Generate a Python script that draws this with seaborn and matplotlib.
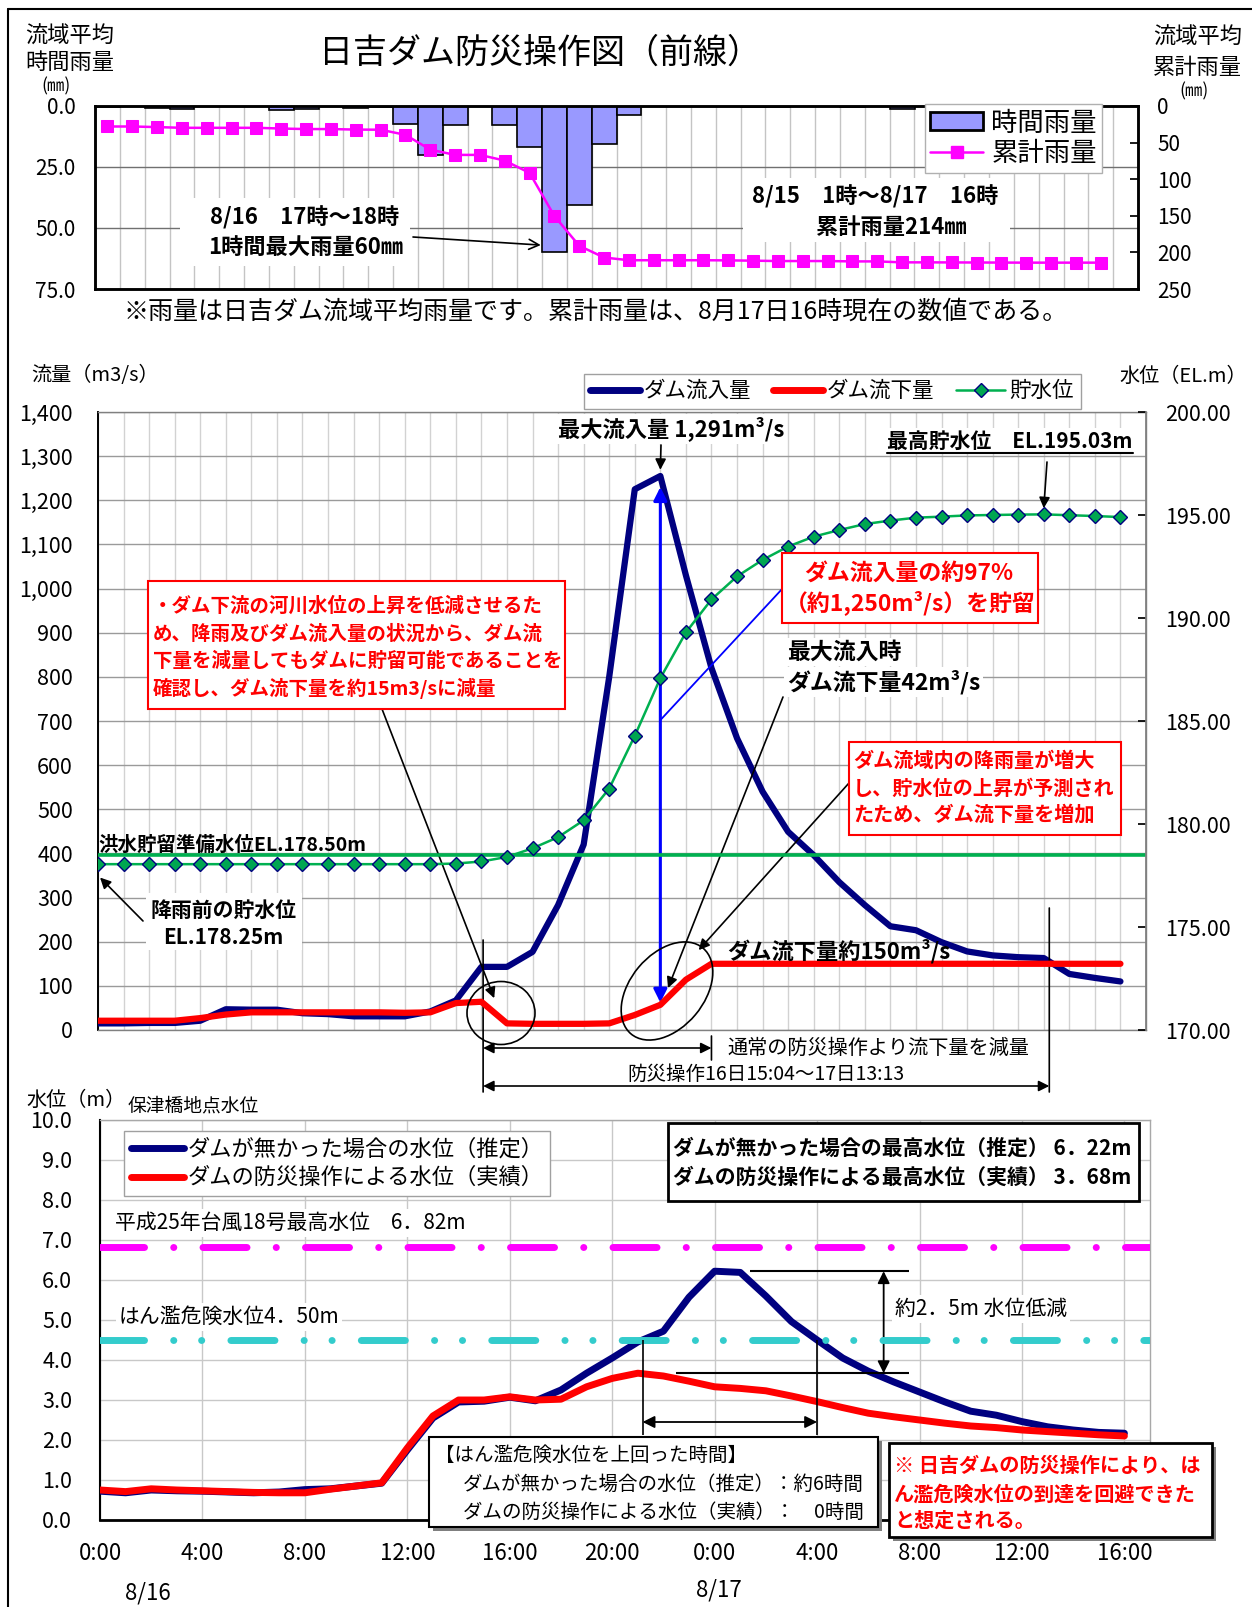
import numpy as np
import pandas as pd
import matplotlib
matplotlib.use("Agg")
import matplotlib.pyplot as plt
import matplotlib.ticker as mticker
from matplotlib.patches import Patch, Ellipse, Rectangle
from matplotlib.lines import Line2D
import seaborn as sns

# ---------------- data ----------------
hours = list(range(41))  # 8/16 0:00 ... 8/17 16:00

hourly_rain = [0.3, 0, 0.8, 1.3, 0, 0, 0, 1.6, 1.3, 0, 1.0, 0.3, 7.3, 20.1, 7.6, 0,
               7.6, 16.8, 60.0, 40.6, 15.6, 3.7, 0, 0, 0, 0, 0.3, 0.3, 0, 0, 0.3, 0,
               1.4, 0, 0, 0, 0, 0, 0, 0, 0]
cum_rain = [28.0, 28.0, 28.8, 29.8, 29.8, 29.8, 29.8, 30.8, 31.5, 31.5, 32.2, 32.4,
            39.4, 59.6, 66.8, 66.8, 74.6, 91.4, 150.4, 191.0, 207.0, 210.7, 210.7,
            210.7, 210.7, 210.9, 211.3, 211.8, 211.8, 211.8, 212.3, 212.3, 213.6,
            213.6, 213.7, 213.8, 213.9, 214.0, 214.0, 214.0, 214.0]

inflow = [15, 15, 16, 16, 21, 47, 46, 46, 38, 36, 31, 31, 31, 42, 67, 143, 143, 177,
          283, 420, 800, 1225, 1255, 1030, 820, 661, 540, 449, 396, 335, 283, 235,
          226, 199, 178, 169, 165, 163, 127, 118, 110]
outflow = [21, 21, 21, 21, 27, 35, 40, 40, 40, 40, 40, 40, 39, 40, 61, 64, 15, 14,
           14, 14, 15, 34, 57, 114, 150, 150, 150, 150, 150, 150, 150, 150, 150, 150,
           150, 150, 150, 150, 150, 150, 150]
storage_level = [178.05, 178.05, 178.05, 178.05, 178.05, 178.05, 178.05, 178.05,
                 178.05, 178.05, 178.05, 178.05, 178.05, 178.05, 178.08, 178.18,
                 178.40, 178.82, 179.36, 180.18, 181.72, 184.28, 187.08, 189.30,
                 190.90, 192.02, 192.82, 193.47, 193.95, 194.27, 194.56, 194.73,
                 194.87, 194.92, 194.98, 195.00, 195.02, 195.03, 194.99, 194.95,
                 194.90]
flood_prep_level = 178.50

no_dam_level = [0.72, 0.68, 0.75, 0.73, 0.72, 0.70, 0.68, 0.70, 0.76, 0.78, 0.85,
                0.92, 1.75, 2.55, 2.95, 2.97, 3.07, 2.98, 3.25, 3.67, 4.05, 4.45,
                4.72, 5.57, 6.22, 6.19, 5.60, 4.96, 4.50, 4.05, 3.72, 3.45, 3.20,
                2.95, 2.72, 2.62, 2.46, 2.33, 2.25, 2.19, 2.17]
actual_level = [0.75, 0.71, 0.78, 0.75, 0.73, 0.71, 0.69, 0.68, 0.68, 0.77, 0.85,
                0.93, 1.80, 2.60, 3.00, 3.00, 3.08, 3.00, 3.02, 3.33, 3.54, 3.67,
                3.60, 3.47, 3.33, 3.29, 3.23, 3.10, 2.96, 2.81, 2.67, 2.58, 2.50,
                2.42, 2.35, 2.31, 2.25, 2.21, 2.17, 2.13, 2.10]
typhoon_max = 6.82
danger_level = 4.50

rain_ticks_left = [0, 25, 50, 75]
rain_ticks_right = [0, 50, 100, 150, 200, 250]
flow_ticks = list(range(0, 1401, 100))
el_ticks = [170, 175, 180, 185, 190, 195, 200]
wl_ticks = list(range(0, 11))
time_ticks = list(range(0, 41, 4))
time_labels = ['0:00', '4:00', '8:00', '12:00', '16:00', '20:00',
               '0:00', '4:00', '8:00', '12:00', '16:00']
op_start = 15 + 4 / 60
op_end = 24 + 13 + 13 / 60
reduce_end = 24

# ---------------- style ----------------
sns.set_theme(style="white")
plt.rcParams['font.family'] = ['Noto Sans CJK JP', 'DejaVu Sans']
plt.rcParams['lines.scale_dashes'] = False
plt.rcParams['axes.unicode_minus'] = False
plt.rcParams['text.color'] = 'black'
plt.rcParams['xtick.color'] = 'black'
plt.rcParams['ytick.color'] = 'black'
plt.rcParams['axes.labelcolor'] = 'black'

W, H = 1252, 1607
fig = plt.figure(figsize=(W / 100, H / 100), dpi=100)
fig.patch.set_facecolor('white')


def axrect(l, t, r, b):
    return [l / W, 1 - b / H, (r - l) / W, (b - t) / H]


def fpt(x, y):
    return (x / W, 1 - y / H)


def ftxt(x, y, s, size, ha='left', va='center', weight='normal', color='black', z=10, **kw):
    return fig.text(x / W, 1 - y / H, s, fontsize=size, ha=ha, va=va,
                    fontweight=weight, color=color, zorder=z, **kw)


def frect(x0, y0, x1, y1, ec='black', lw=1.5, fc='white', z=8, shadow=False):
    if shadow:
        fig.add_artist(Rectangle(((x0 + 4) / W, 1 - (y1 + 4) / H), (x1 - x0) / W, (y1 - y0) / H,
                                 transform=fig.transFigure, fc='#7f7f7f', ec='none', zorder=z - 0.5))
    fig.add_artist(Rectangle((x0 / W, 1 - y1 / H), (x1 - x0) / W, (y1 - y0) / H,
                             transform=fig.transFigure, fc=fc, ec=ec, lw=lw, zorder=z))


def fline(x0, y0, x1, y1, color='black', lw=1.2, z=9):
    fig.add_artist(Line2D([x0 / W, x1 / W], [1 - y0 / H, 1 - y1 / H],
                          transform=fig.transFigure, color=color, lw=lw, zorder=z))


def fell(cx, cy, w, h, ang=0):
    fig.add_artist(Ellipse((cx / 100, (H - cy) / 100), w / 100, h / 100, angle=ang,
                           transform=fig.dpi_scale_trans, fc='none', ec='black', lw=1.2, zorder=9))


WHITE = dict(facecolor='white', edgecolor='none', pad=2)
ARW = dict(arrowstyle='-|>', color='black', lw=1.2, mutation_scale=16, shrinkA=0, shrinkB=0)

# figure border
fline(7.7, 9, 1252, 9, lw=1.5)
fline(7.7, 9, 7.7, 1607, lw=1.5)

# ================= TOP : rainfall =================
ax_r = fig.add_axes(axrect(95, 106, 1138, 289))
rain_df = pd.DataFrame({'hour': hours, 'rain': hourly_rain, 'cum': cum_rain})
sns.barplot(data=rain_df, x='hour', y='rain', native_scale=True, width=1.0,
            color='#9999FF', saturation=1, edgecolor='black', linewidth=1.2,
            errorbar=None, ax=ax_r, zorder=2)
ax_r.set_xlim(-0.5, 41.5)
ax_r.set_ylim(75, 0)
ax_r.set_yticks(rain_ticks_left)
ax_r.set_yticklabels([f'{v:.1f}' for v in rain_ticks_left])
ax_r.set_xticks(np.arange(0.5, 41.5, 1))
ax_r.set_xticklabels([])
ax_r.tick_params(axis='x', length=0)
ax_r.tick_params(axis='y', labelsize=15, length=0, pad=14)
ax_r.grid(axis='x', color='#c4c4c4', lw=1)
ax_r.grid(axis='y', color='#707070', lw=1)
ax_r.set_axisbelow(True)
ax_r.set_xlabel('')
ax_r.set_ylabel('')

ax_c = ax_r.twinx()
sns.lineplot(data=rain_df, x='hour', y='cum', ax=ax_c, color='#FF00FF', linewidth=1.8,
             marker='s', markersize=9, markeredgecolor='#FF00FF', legend=False)
ax_c.set_xlim(-0.5, 41.5)
ax_c.set_ylim(250, 0)
ax_c.set_yticks(rain_ticks_right)
ax_c.set_yticklabels([str(v) for v in rain_ticks_right])
ax_c.tick_params(axis='y', labelsize=15, direction='in', length=6, pad=14)
ax_c.set_ylabel('')
for a in (ax_r, ax_c):
    for s in a.spines.values():
        s.set_color('black')
        s.set_linewidth(1.8)

fig.legend([Patch(facecolor='#9999FF', edgecolor='black', linewidth=2),
            Line2D([], [], color='#FF00FF', lw=1.8, marker='s', markersize=9)],
           ['時間雨量', '累計雨量'], loc='upper left', bbox_to_anchor=fpt(912, 91),
           fontsize=19, frameon=True, fancybox=False, edgecolor='#b0b0b0', framealpha=1,
           handlelength=2.0, handletextpad=0.3, labelspacing=0.15, borderpad=0.2)

ftxt(540, 53, '日吉ダム防災操作図（前線）', 24.5, ha='center')
ftxt(25, 36, '流域平均', 16)
ftxt(25, 62, '時間雨量', 16)
ftxt(56, 86, '(㎜)', 12.5, ha='center')
ftxt(1153, 37, '流域平均', 16)
ftxt(1153, 67, '累計雨量', 16)
ftxt(1194, 91, '(㎜)', 12.5, ha='center')

frect(180, 198, 410, 266, ec='none', z=7)
ftxt(305, 218, '8/16　17時～18時', 16, ha='center', weight='bold')
ftxt(306, 247, '1時間最大雨量60㎜', 16, ha='center', weight='bold')
ax_r.annotate('', xy=(17.45, 57), xytext=fpt(413, 237), textcoords='figure fraction',
              arrowprops=dict(arrowstyle='->', color='black', lw=1.2, mutation_scale=18,
                              shrinkA=0, shrinkB=0))
frect(743, 178, 1010, 242, ec='none', z=7)
ftxt(875, 197, '8/15　1時～8/17　16時', 16, ha='center', weight='bold')
ftxt(891, 227, '累計雨量214㎜', 16, ha='center', weight='bold')

ftxt(596, 312, '※雨量は日吉ダム流域平均雨量です。累計雨量は、8月17日16時現在の数値である。', 18, ha='center')

# ================= MIDDLE : discharge =================
ax_q = fig.add_axes(axrect(98, 412, 1146, 1030))
sns.lineplot(x=hours, y=inflow, ax=ax_q, color='#000080', linewidth=4.5, zorder=3,
             solid_joinstyle='round', legend=False)
sns.lineplot(x=hours, y=outflow, ax=ax_q, color='#FF0000', linewidth=4.5, zorder=4,
             solid_joinstyle='round', legend=False)
ax_q.set_xlim(0, 41)
ax_q.set_ylim(0, 1400)
ax_q.set_yticks(flow_ticks)
ax_q.yaxis.set_major_formatter(mticker.StrMethodFormatter('{x:,.0f}'))
ax_q.set_xticks(range(0, 42))
ax_q.tick_params(axis='x', length=0, labelbottom=False)
ax_q.tick_params(axis='y', labelsize=15.5, length=0, pad=18)
ax_q.grid(axis='y', color='#9a9a9a', lw=1)
ax_q.grid(axis='x', color='#d2d2d2', lw=1)
ax_q.set_axisbelow(True)
ax_q.set_xlabel('')
ax_q.set_ylabel('')
for k, s in ax_q.spines.items():
    s.set_color('black' if k == 'left' else '#808080')
    s.set_linewidth(1.4 if k == 'left' else 1.0)

ax_l = ax_q.twinx()
ax_l.axhline(flood_prep_level, color='#00B050', lw=2.6, zorder=2)
sns.lineplot(x=hours, y=storage_level, ax=ax_l, color='#00B050', linewidth=1.8, marker='D',
             markersize=7.5, markerfacecolor='#00A651', markeredgecolor='#000080',
             markeredgewidth=1.0, zorder=3, legend=False)
ax_l.set_xlim(0, 41)
ax_l.set_ylim(170, 200)
ax_l.set_yticks(el_ticks)
ax_l.yaxis.set_major_formatter(mticker.StrMethodFormatter('{x:.2f}'))
ax_l.tick_params(axis='y', labelsize=15.5, direction='in', length=6, pad=14)
ax_l.set_ylabel('')
for k, s in ax_l.spines.items():
    s.set_visible(k == 'right')
    s.set_color('#808080')

ftxt(31, 376, '流量（m3/s）', 14.5)
ftxt(1119, 376, '水位（EL.m）', 14.5)
fig.legend([Line2D([], [], color='#000080', lw=5),
            Line2D([], [], color='#FF0000', lw=5),
            Line2D([], [], color='#00B050', lw=1.8, marker='D', markersize=7.5,
                   markerfacecolor='#00A651', markeredgecolor='#000080')],
           ['ダム流入量', 'ダム流下量', '貯水位'], loc='upper left', bbox_to_anchor=fpt(573, 363),
           ncol=3, fontsize=15.5, frameon=True, fancybox=False, edgecolor='#a0a0a0',
           framealpha=1, handlelength=2.3, handletextpad=0.2, columnspacing=1.0,
           borderpad=0.3)

peak_h = int(np.argmax(inflow))
peak_v = max(inflow)
ftxt(558, 429, '最大流入量 1,291m³/s', 16, weight='bold', bbox=WHITE)
ax_q.annotate('', xy=(peak_h, peak_v + 14), xytext=fpt(661, 445), textcoords='figure fraction',
              arrowprops=ARW)

top_h = int(np.argmax(storage_level))
ftxt(887, 441, '最高貯水位　EL.195.03m', 15, weight='bold', bbox=WHITE)
fline(887, 453, 1133, 453, lw=1.5, z=11)
ax_l.annotate('', xy=(top_h, max(storage_level) + 0.3), xytext=fpt(1047, 462),
              textcoords='figure fraction', arrowprops=ARW)

# blue double arrow (stored amount)
ax_q.annotate('', xy=(peak_h, outflow[peak_h] + 5), xytext=(peak_h, peak_v - 25),
              arrowprops=dict(arrowstyle='<|-|>', color='#0000FF', lw=2.2, mutation_scale=20,
                              shrinkA=0, shrinkB=0))
ax_q.annotate('', xy=fpt(783, 588), xycoords='figure fraction', xytext=(peak_h, 702),
              textcoords='data', arrowprops=dict(arrowstyle='-', color='#0000FF', lw=1.3,
                                                 shrinkA=0, shrinkB=0))

# red box 1
frect(148, 581, 565, 709, ec='#FF0000', lw=1.5)
for yy, s in zip([606, 634, 661, 688],
                 ['・ダム下流の河川水位の上昇を低減させるた',
                  'め、降雨及びダム流入量の状況から、ダム流',
                  '下量を減量してもダムに貯留可能であることを',
                  '確認し、ダム流下量を約15m3/sに減量']):
    ftxt(153, yy, s, 14, weight='bold', color='#FF0000')
ax_q.annotate('', xy=(15.5, 72), xytext=fpt(382, 709), textcoords='figure fraction',
              arrowprops=ARW)

# red box 2
frect(782, 553, 1038, 623, ec='#FF0000', lw=1.5)
ftxt(909, 573, 'ダム流入量の約97%', 16.5, ha='center', weight='bold', color='#FF0000')
ftxt(910, 603, '（約1,250m³/s）を貯留', 16.5, ha='center', weight='bold', color='#FF0000')

ftxt(787, 652, '最大流入時', 16.5, weight='bold', bbox=WHITE)
ftxt(787, 682, 'ダム流下量42m³/s', 16.5, weight='bold', bbox=WHITE)
ax_q.annotate('', xy=(22.3, 95), xytext=fpt(783, 697), textcoords='figure fraction',
              arrowprops=ARW)

# red box 3
frect(849, 742, 1121, 835, ec='#FF0000', lw=1.5)
for yy, s in zip([760, 788, 814], ['ダム流域内の降雨量が増大', 'し、貯水位の上昇が予測され',
                                   'たため、ダム流下量を増加']):
    ftxt(853, yy, s, 14.5, weight='bold', color='#FF0000')
ax_q.annotate('', xy=(23.5, 181), xytext=fpt(849, 783), textcoords='figure fraction',
              arrowprops=ARW)

ftxt(727, 951, 'ダム流下量約150m³/s', 16, weight='bold')
fell(501, 1013, 68, 63)
fell(667, 991, 112, 74, 50)

ftxt(98, 845, '洪水貯留準備水位EL.178.50m', 14, weight='bold')
frect(146, 893, 302, 950, ec='none', z=7)
ftxt(224, 910, '降雨前の貯水位', 15, ha='center', weight='bold')
ftxt(223, 937, 'EL.178.25m', 15, ha='center', weight='bold')
ax_l.annotate('', xy=(0.08, 177.4), xytext=fpt(143, 921), textcoords='figure fraction',
              arrowprops=ARW)

# operation period arrows
BL = ('data', 'figure fraction')
for xx, y0, y1 in [(op_start, 940, 1092), (reduce_end, 1036, 1060), (op_end, 908, 1092)]:
    ax_q.annotate('', xy=(xx, 1 - y0 / H), xytext=(xx, 1 - y1 / H), xycoords=BL, textcoords=BL,
                  annotation_clip=False,
                  arrowprops=dict(arrowstyle='-', color='black', lw=1.2, shrinkA=0, shrinkB=0))
for x0, x1, yy in [(op_start, reduce_end, 1048), (op_start, op_end, 1086)]:
    ax_q.annotate('', xy=(x1, 1 - yy / H), xytext=(x0, 1 - yy / H), xycoords=BL, textcoords=BL,
                  annotation_clip=False,
                  arrowprops=dict(arrowstyle='<|-|>', color='black', lw=1.2, mutation_scale=16,
                                  shrinkA=0, shrinkB=0))
ftxt(727, 1048, '通常の防災操作より流下量を減量', 14.5)
ftxt(627, 1074, '防災操作16日15:04～17日13:13', 14)

# ================= BOTTOM : river water level =================
ax_w = fig.add_axes(axrect(100, 1120, 1150, 1520))
sns.lineplot(x=hours, y=no_dam_level, ax=ax_w, color='#000080', linewidth=5, zorder=3,
             solid_joinstyle='round', legend=False)
sns.lineplot(x=hours, y=actual_level, ax=ax_w, color='#FF0000', linewidth=5, zorder=4,
             solid_joinstyle='round', legend=False)
ax_w.axhline(typhoon_max, color='#FF00FF', lw=5, dashes=(31.7, 21, 0.1, 21),
             dash_capstyle='round', zorder=5)
ax_w.axhline(danger_level, color='#33CCCC', lw=5, dashes=(31.7, 21, 0.1, 20, 0.1, 21),
             dash_capstyle='round', zorder=5)
ax_w.set_xlim(0, 41)
ax_w.set_ylim(0, 10)
ax_w.set_yticks(wl_ticks)
ax_w.yaxis.set_major_formatter(mticker.StrMethodFormatter('{x:.1f}'))
ax_w.set_xticks(time_ticks)
ax_w.set_xticklabels(time_labels)
ax_w.set_xticks(list(range(2, 41, 4)), minor=True)
ax_w.tick_params(axis='x', which='major', labelsize=16, length=0, pad=16)
ax_w.tick_params(axis='x', which='minor', direction='in', length=7, width=1, color='black')
ax_w.tick_params(axis='y', labelsize=15.5, length=0, pad=20)
ax_w.grid(axis='both', which='major', color='#c8c8c8', lw=1)
ax_w.set_axisbelow(True)
ax_w.set_xlabel('')
ax_w.set_ylabel('')
ax_w.spines['left'].set_color('black')
ax_w.spines['left'].set_linewidth(1.5)
ax_w.spines['bottom'].set_color('black')
ax_w.spines['bottom'].set_linewidth(2)
for k in ('top', 'right'):
    ax_w.spines[k].set_color('#a8a8a8')
    ax_w.spines[k].set_linewidth(1)

ftxt(26, 1100, '水位（m）', 14.5)
ftxt(128, 1106, '保津橋地点水位', 13.5)
fig.legend([Line2D([], [], color='#000080', lw=5), Line2D([], [], color='#FF0000', lw=5)],
           ['ダムが無かった場合の水位（推定）', 'ダムの防災操作による水位（実績）'],
           loc='upper left', bbox_to_anchor=fpt(113, 1120), fontsize=16, frameon=True,
           fancybox=False, edgecolor='#a0a0a0', framealpha=1, handlelength=2.4,
           handletextpad=0.15, labelspacing=0.25, borderpad=0.3)

frect(668, 1123, 1139, 1201, lw=2)
ftxt(673, 1148, 'ダムが無かった場合の最高水位（推定） 6．22m', 15, weight='bold')
ftxt(673, 1177, 'ダムの防災操作による最高水位（実績） 3．68m', 15, weight='bold')

ftxt(115, 1223, '平成25年台風18号最高水位　6．82m', 15, bbox=WHITE)
ftxt(119, 1317, 'はん濫危険水位4．50m', 15, bbox=WHITE)

nd_max = max(no_dam_level)
ac_max = max(actual_level)
ax_w.hlines(nd_max, 25.4, 31.6, color='black', lw=1.5, zorder=6)
ax_w.hlines(ac_max, 22.5, 31.6, color='black', lw=1.5, zorder=6)
ax_w.annotate('', xy=(30.6, nd_max), xytext=(30.6, ac_max),
              arrowprops=dict(arrowstyle='<|-|>', color='black', lw=1.3, mutation_scale=18,
                              shrinkA=0, shrinkB=0))
ftxt(895, 1309, '約2．5m 水位低減', 15, bbox=WHITE)

nd = np.array(no_dam_level)
above = nd >= danger_level
i_up = int(np.argmax(above))
t_up = (i_up - 1) + (danger_level - nd[i_up - 1]) / (nd[i_up] - nd[i_up - 1])
i_dn = len(nd) - int(np.argmax(above[::-1]))
t_dn = (i_dn - 1) + (nd[i_dn - 1] - danger_level) / (nd[i_dn - 1] - nd[i_dn])
ax_w.vlines([t_up, t_dn], 2.12, danger_level, color='black', lw=1.2, zorder=6)
ax_w.annotate('', xy=(t_dn, 2.45), xytext=(t_up, 2.45),
              arrowprops=dict(arrowstyle='<|-|>', color='black', lw=1.3, mutation_scale=18,
                              shrinkA=0, shrinkB=0))

frect(429, 1437, 878, 1527, lw=1.5, shadow=True)
ftxt(435, 1455, '【はん濫危険水位を上回った時間】', 14)
ftxt(463, 1484, 'ダムが無かった場合の水位（推定）：約6時間', 14)
ftxt(463, 1512, 'ダムの防災操作による水位（実績）：　0時間', 14)

frect(889, 1443, 1212, 1537, lw=2, shadow=True)
for yy, s in zip([1465, 1494, 1520], ['※ 日吉ダムの防災操作により、は',
                                      'ん濫危険水位の到達を回避できた', 'と想定される。']):
    ftxt(894, yy, s, 14.5, weight='bold', color='#FF0000')

ftxt(148, 1593, '8/16', 16, ha='center')
ftxt(719, 1590, '8/17', 16, ha='center')

fig.savefig('out.png', dpi=100, facecolor='white')
